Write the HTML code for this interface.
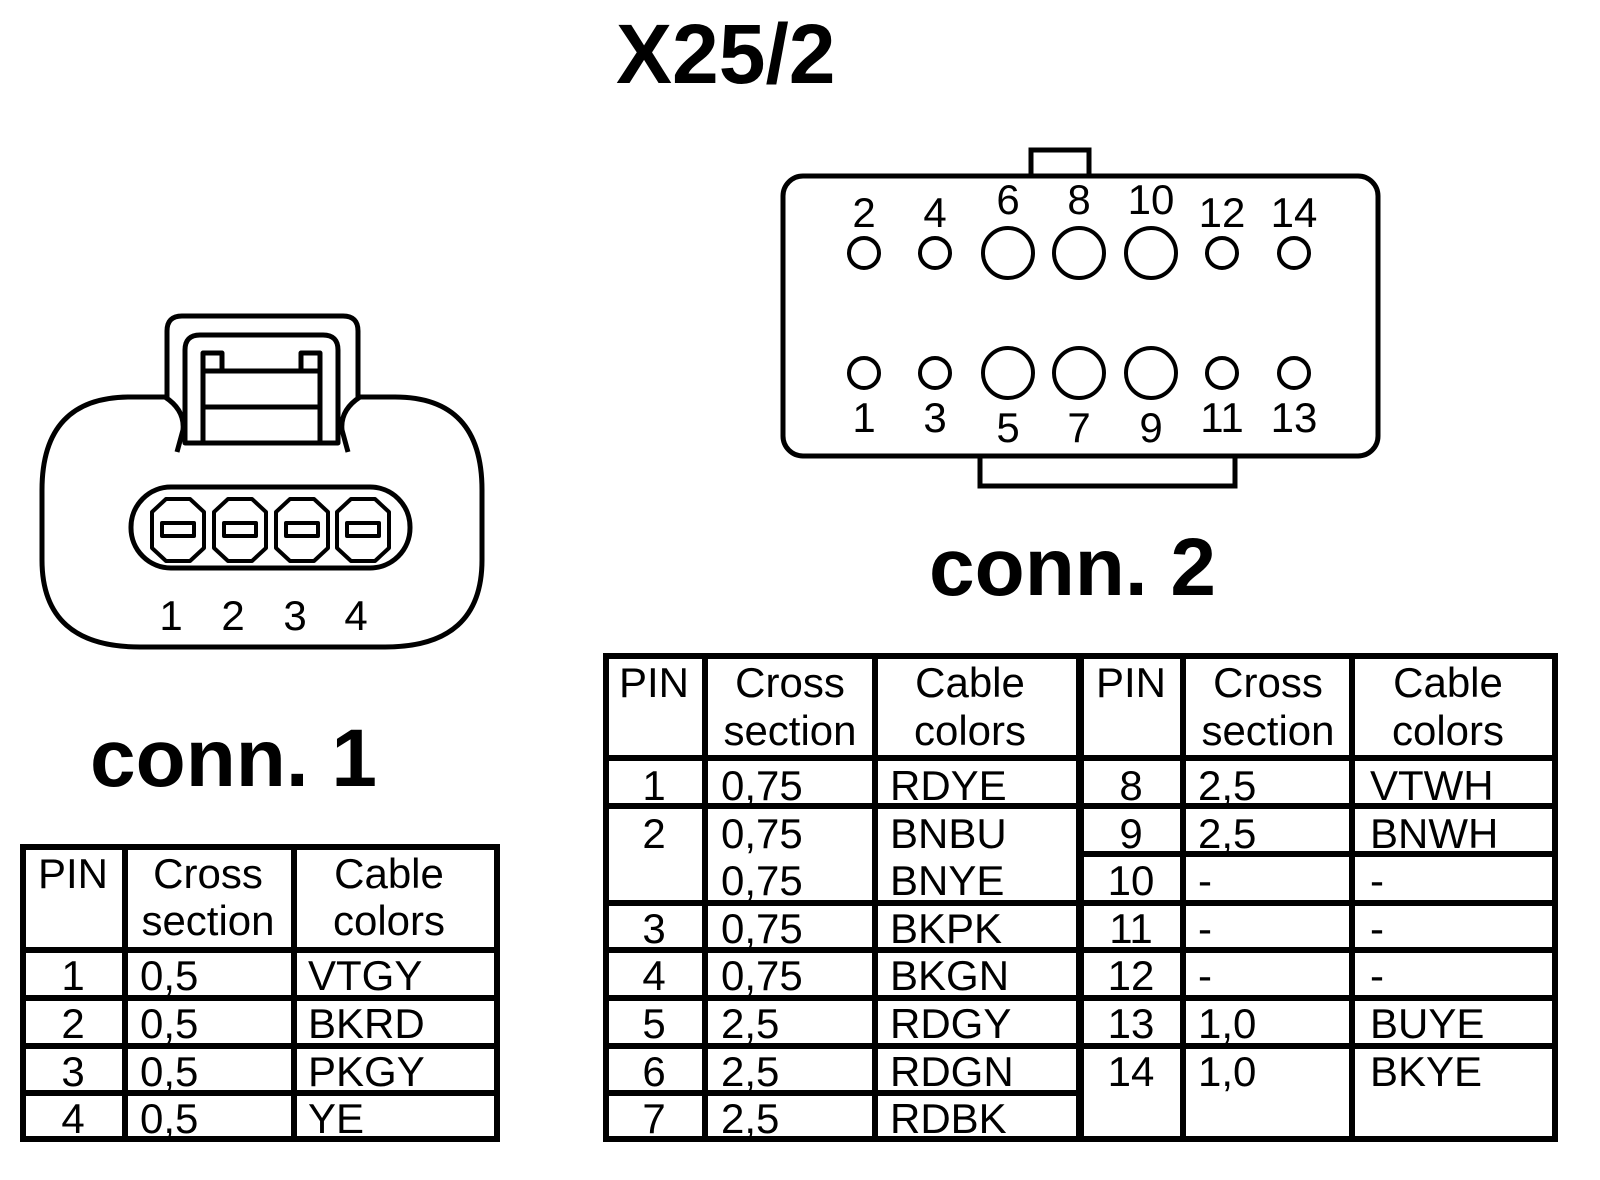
<!DOCTYPE html>
<html><head><meta charset="utf-8"><style>
html,body{margin:0;padding:0;background:#fff;}
svg{display:block;}
text{font-family:"Liberation Sans",Arial,sans-serif;fill:#000;}
.t{font-size:42px;}
.b{font-weight:bold;}
</style></head><body>
<svg width="1600" height="1180" viewBox="0 0 1600 1180" xmlns="http://www.w3.org/2000/svg">
<rect width="1600" height="1180" fill="#fff"/>
<text x="616" y="83" class="b" font-size="84">X25/2</text>

<g fill="none" stroke="#000" stroke-width="5" stroke-linejoin="round">
<path d="M177,452 L183,430 Q185,410 165,397 L130,397 Q42,397 42,490 L42,560 Q42,647 140,647 L385,647 Q482,647 482,560 L482,490 Q482,397 395,397 L360,397 Q340,410 342,430 L348,452"/>
<path d="M167,397 L167,331 Q167,316 182,316 L343,316 Q358,316 358,331 L358,397"/>
<path d="M185,443 L185,350 Q185,335 200,335 L323,335 Q338,335 338,350 L338,443 Z"/>
<path d="M203,443 L203,353 L222,353 L222,371 M320,443 L320,353 L301,353 L301,371 M203,371 L320,371 M203,407 L320,407"/>
<rect x="131" y="487" width="279" height="81" rx="40"/>
<g stroke-width="4">
<path d="M166,499 L190,499 L204,512 L204,548 L190,561 L166,561 L152,548 L152,512 Z"/>
<path d="M228,499 L252,499 L266,512 L266,548 L252,561 L228,561 L214,548 L214,512 Z"/>
<path d="M290,499 L314,499 L328,512 L328,548 L314,561 L290,561 L276,548 L276,512 Z"/>
<path d="M351,499 L375,499 L389,512 L389,548 L375,561 L351,561 L337,548 L337,512 Z"/>
<rect x="162" y="523" width="32" height="13"/>
<rect x="224" y="523" width="32" height="13"/>
<rect x="286" y="523" width="32" height="13"/>
<rect x="347" y="523" width="32" height="13"/>
</g>
</g>
<g class="t" text-anchor="middle">
<text x="171" y="630">1</text><text x="233" y="630">2</text><text x="295" y="630">3</text><text x="356" y="630">4</text>
</g>
<text x="90" y="786" class="b" font-size="82">conn. 1</text>

<g fill="none" stroke="#000" stroke-width="5">
<path d="M1031,176 L1031,150 L1089,150 L1089,176"/>
<path d="M980,456 L980,486 L1235,486 L1235,456"/>
<rect x="783" y="176" width="595" height="280" rx="20"/>
<g stroke-width="4">
<circle cx="864" cy="253" r="15"/><circle cx="935" cy="253" r="15"/>
<circle cx="1008" cy="253" r="25"/><circle cx="1079" cy="253" r="25"/><circle cx="1151" cy="253" r="25"/>
<circle cx="1222" cy="253" r="15"/><circle cx="1294" cy="253" r="15"/>
<circle cx="864" cy="373" r="15"/><circle cx="935" cy="373" r="15"/>
<circle cx="1008" cy="373" r="25"/><circle cx="1079" cy="373" r="25"/><circle cx="1151" cy="373" r="25"/>
<circle cx="1222" cy="373" r="15"/><circle cx="1294" cy="373" r="15"/>
</g>
</g>
<g class="t" text-anchor="middle">
<text x="864" y="227">2</text><text x="935" y="227">4</text>
<text x="1008" y="214">6</text><text x="1079" y="214">8</text><text x="1151" y="214">10</text>
<text x="1222" y="227">12</text><text x="1294" y="227">14</text>
<text x="864" y="432">1</text><text x="935" y="432">3</text>
<text x="1008" y="442">5</text><text x="1079" y="442">7</text><text x="1151" y="442">9</text>
<text x="1222" y="432">11</text><text x="1294" y="432">13</text>
</g>
<text x="929" y="595" class="b" font-size="82">conn. 2</text>

<g fill="none" stroke="#000" stroke-width="6">
<rect x="23" y="847" width="474" height="292"/>
<path d="M125,847 V1139 M294,847 V1139 M23,950 H497 M23,998 H497 M23,1046 H497 M23,1093 H497"/>
</g>
<g class="t">
<text x="73" y="888" text-anchor="middle">PIN</text>
<text x="208" y="888" text-anchor="middle">Cross</text>
<text x="208" y="935" text-anchor="middle">section</text>
<text x="389" y="888" text-anchor="middle">Cable</text>
<text x="389" y="935" text-anchor="middle">colors</text>
<text x="73" y="990" text-anchor="middle">1</text><text x="140" y="990">0,5</text><text x="308" y="990">VTGY</text>
<text x="73" y="1038" text-anchor="middle">2</text><text x="140" y="1038">0,5</text><text x="308" y="1038">BKRD</text>
<text x="73" y="1086" text-anchor="middle">3</text><text x="140" y="1086">0,5</text><text x="308" y="1086">PKGY</text>
<text x="73" y="1133" text-anchor="middle">4</text><text x="140" y="1133">0,5</text><text x="308" y="1133">YE</text>
</g>

<g fill="none" stroke="#000" stroke-width="6">
<rect x="606" y="656" width="949" height="483"/>
<path d="M705,656 V1139 M875,656 V1139 M1183,656 V1139 M1352,656 V1139"/>
<path d="M1080,656 V1139" stroke-width="8"/>
<path d="M606,758 H1555 M606,806 H1555 M1080,854 H1555 M606,903 H1555 M606,950 H1555 M606,998 H1555 M606,1046 H1555 M606,1093 H1080"/>
</g>
<g class="t">
<text x="654" y="697" text-anchor="middle">PIN</text>
<text x="790" y="697" text-anchor="middle">Cross</text>
<text x="790" y="745" text-anchor="middle">section</text>
<text x="970" y="697" text-anchor="middle">Cable</text>
<text x="970" y="745" text-anchor="middle">colors</text>
<text x="1131" y="697" text-anchor="middle">PIN</text>
<text x="1268" y="697" text-anchor="middle">Cross</text>
<text x="1268" y="745" text-anchor="middle">section</text>
<text x="1448" y="697" text-anchor="middle">Cable</text>
<text x="1448" y="745" text-anchor="middle">colors</text>

<text x="654" y="800" text-anchor="middle">1</text><text x="721" y="800">0,75</text><text x="890" y="800">RDYE</text>
<text x="654" y="848" text-anchor="middle">2</text><text x="721" y="848">0,75</text><text x="890" y="848">BNBU</text>
<text x="721" y="895">0,75</text><text x="890" y="895">BNYE</text>
<text x="654" y="943" text-anchor="middle">3</text><text x="721" y="943">0,75</text><text x="890" y="943">BKPK</text>
<text x="654" y="990" text-anchor="middle">4</text><text x="721" y="990">0,75</text><text x="890" y="990">BKGN</text>
<text x="654" y="1038" text-anchor="middle">5</text><text x="721" y="1038">2,5</text><text x="890" y="1038">RDGY</text>
<text x="654" y="1086" text-anchor="middle">6</text><text x="721" y="1086">2,5</text><text x="890" y="1086">RDGN</text>
<text x="654" y="1133" text-anchor="middle">7</text><text x="721" y="1133">2,5</text><text x="890" y="1133">RDBK</text>

<text x="1131" y="800" text-anchor="middle">8</text><text x="1198" y="800">2,5</text><text x="1370" y="800">VTWH</text>
<text x="1131" y="848" text-anchor="middle">9</text><text x="1198" y="848">2,5</text><text x="1370" y="848">BNWH</text>
<text x="1131" y="895" text-anchor="middle">10</text><text x="1198" y="895">-</text><text x="1370" y="895">-</text>
<text x="1131" y="943" text-anchor="middle">11</text><text x="1198" y="943">-</text><text x="1370" y="943">-</text>
<text x="1131" y="990" text-anchor="middle">12</text><text x="1198" y="990">-</text><text x="1370" y="990">-</text>
<text x="1131" y="1038" text-anchor="middle">13</text><text x="1198" y="1038">1,0</text><text x="1370" y="1038">BUYE</text>
<text x="1131" y="1086" text-anchor="middle">14</text><text x="1198" y="1086">1,0</text><text x="1370" y="1086">BKYE</text>
</g>
</svg>
</body></html>
